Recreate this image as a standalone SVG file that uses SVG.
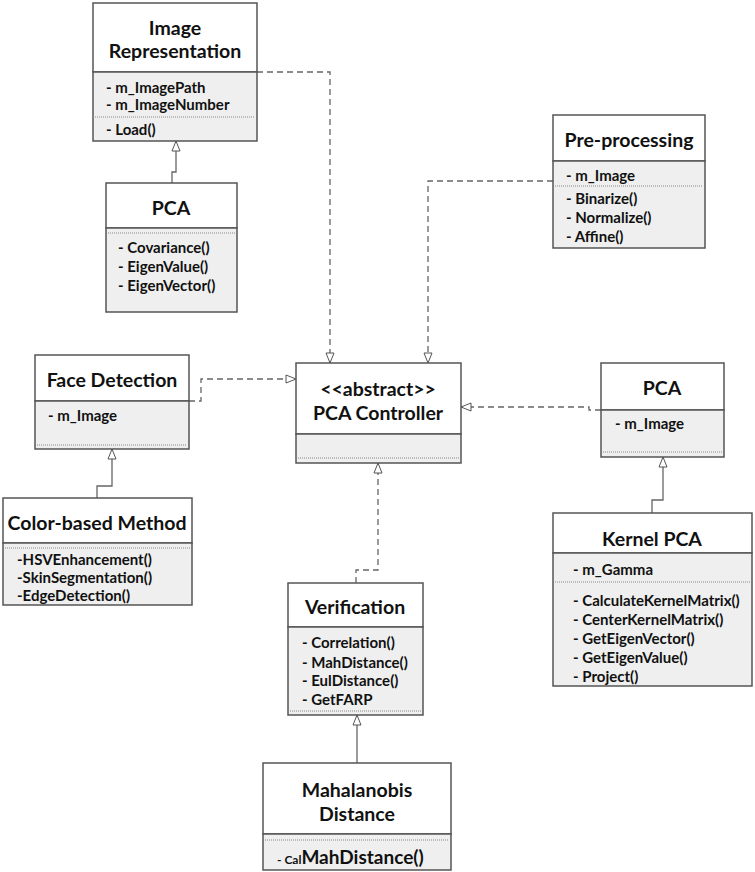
<svg xmlns="http://www.w3.org/2000/svg" width="755" height="872" viewBox="0 0 755 872">
<defs>
<marker id="tri" viewBox="0 0 12 10" refX="11" refY="5" markerWidth="12" markerHeight="10" markerUnits="userSpaceOnUse" orient="auto">
<path d="M1,1 L11,5 L1,9 Z" fill="#fff" stroke="#555" stroke-width="1"/>
</marker>
<style>
.box{stroke:#555;stroke-width:1.5}
.hd{fill:#fff}
.bd{fill:#efefef}
.dot{stroke:#888;stroke-width:1;stroke-dasharray:1 1}
.t{font-family:Lato,"Open Sans",sans-serif;font-weight:bold;font-size:19.5px;fill:#111;text-anchor:middle;dominant-baseline:central}
.f{font-family:Lato,"Open Sans",sans-serif;font-weight:bold;font-size:15px;fill:#111;dominant-baseline:central}
.c{fill:none;stroke:#666;stroke-width:1.3}
.d{stroke-dasharray:6 4}
</style>
</defs>
<rect width="755" height="872" fill="#fff"/>

<g id="connectors">
<polyline class="c d" points="257,72 330,72 330,363" marker-end="url(#tri)"/>
<polyline class="c d" points="553,181 428,181 428,363" marker-end="url(#tri)"/>
<polyline class="c d" points="189,401 201,401 201,379 296,379" marker-end="url(#tri)"/>
<polyline class="c d" points="601,410 589,410 589,407 461,407" marker-end="url(#tri)"/>
<polyline class="c d" points="356,583 356,570 378,570 378,463" marker-end="url(#tri)"/>
<polyline class="c" points="172,183 172,172 176,172 176,141" marker-end="url(#tri)"/>
<polyline class="c" points="97,498 97,486 112,486 112,449" marker-end="url(#tri)"/>
<polyline class="c" points="652,513 652,500 663,500 663,457" marker-end="url(#tri)"/>
<polyline class="c" points="357,763 357,715" marker-end="url(#tri)"/>
</g>

<g id="image-representation">
<rect class="box hd" x="93" y="3" width="164" height="69"/>
<rect class="box bd" x="93" y="72" width="164" height="69"/>
<line class="dot" x1="95" y1="117" x2="255" y2="117"/>
<text class="t" x="175" y="27">Image</text>
<text class="t" x="175" y="50">Representation</text>
<text class="f" x="106" y="87">- m_ImagePath</text>
<text class="f" x="106" y="104">- m_ImageNumber</text>
<text class="f" x="106" y="129">- Load()</text>
</g>

<g id="pca-top">
<rect class="box hd" x="106" y="183" width="131" height="45"/>
<rect class="box bd" x="106" y="228" width="131" height="84"/>
<line class="dot" x1="108" y1="233" x2="235" y2="233"/>
<text class="t" x="171" y="207">PCA</text>
<text class="f" x="118" y="247">- Covariance()</text>
<text class="f" x="118" y="266">- EigenValue()</text>
<text class="f" x="118" y="285">- EigenVector()</text>
</g>

<g id="pre-processing">
<rect class="box hd" x="553" y="115" width="152" height="46"/>
<rect class="box bd" x="553" y="161" width="152" height="87"/>
<line class="dot" x1="555" y1="186" x2="703" y2="186"/>
<text class="t" x="629" y="139">Pre-processing</text>
<text class="f" x="566" y="175">- m_Image</text>
<text class="f" x="566" y="198">- Binarize()</text>
<text class="f" x="566" y="217">- Normalize()</text>
<text class="f" x="566" y="236">- Affine()</text>
</g>

<g id="face-detection">
<rect class="box hd" x="35" y="355" width="154" height="46"/>
<rect class="box bd" x="35" y="401" width="154" height="48"/>
<line class="dot" x1="37" y1="445" x2="187" y2="445"/>
<text class="t" x="112" y="379">Face Detection</text>
<text class="f" x="48" y="415">- m_Image</text>
</g>

<g id="pca-controller">
<rect class="box hd" x="296" y="363" width="165" height="71"/>
<rect class="box bd" x="296" y="434" width="165" height="29"/>
<line class="dot" x1="298" y1="458" x2="459" y2="458"/>
<text class="t" x="378" y="388">&lt;&lt;abstract&gt;&gt;</text>
<text class="t" x="378" y="412">PCA Controller</text>
</g>

<g id="pca-right">
<rect class="box hd" x="601" y="363" width="123" height="47"/>
<rect class="box bd" x="601" y="410" width="123" height="47"/>
<line class="dot" x1="603" y1="452" x2="722" y2="452"/>
<text class="t" x="662" y="387">PCA</text>
<text class="f" x="615" y="423">- m_Image</text>
</g>

<g id="color-based-method">
<rect class="box hd" x="3" y="498" width="189" height="45"/>
<rect class="box bd" x="3" y="543" width="189" height="62"/>
<line class="dot" x1="5" y1="548" x2="190" y2="548"/>
<text class="t" x="97" y="522">Color-based Method</text>
<text class="f" x="17" y="559">-HSVEnhancement()</text>
<text class="f" x="17" y="577">-SkinSegmentation()</text>
<text class="f" x="17" y="595">-EdgeDetection()</text>
</g>

<g id="kernel-pca">
<rect class="box hd" x="553" y="513" width="199" height="40"/>
<rect class="box bd" x="553" y="553" width="199" height="133"/>
<line class="dot" x1="555" y1="582" x2="750" y2="582"/>
<text class="t" x="652" y="538">Kernel PCA</text>
<text class="f" x="573" y="569">- m_Gamma</text>
<text class="f" x="573" y="600">- CalculateKernelMatrix()</text>
<text class="f" x="573" y="619">- CenterKernelMatrix()</text>
<text class="f" x="573" y="638">- GetEigenVector()</text>
<text class="f" x="573" y="657">- GetEigenValue()</text>
<text class="f" x="573" y="676">- Project()</text>
</g>

<g id="verification">
<rect class="box hd" x="288" y="583" width="135" height="44"/>
<rect class="box bd" x="288" y="627" width="135" height="88"/>
<line class="dot" x1="290" y1="711" x2="421" y2="711"/>
<text class="t" x="355" y="606">Verification</text>
<text class="f" x="302" y="642">- Correlation()</text>
<text class="f" x="302" y="662">- MahDistance()</text>
<text class="f" x="302" y="680">- EulDistance()</text>
<text class="f" x="302" y="699">- GetFARP</text>
</g>

<g id="mahalanobis-distance">
<rect class="box hd" x="263" y="763" width="188" height="71"/>
<rect class="box bd" x="263" y="834" width="188" height="36"/>
<line class="dot" x1="265" y1="840" x2="449" y2="840"/>
<text class="t" x="357" y="789">Mahalanobis</text>
<text class="t" x="357" y="813">Distance</text>
<text class="f" x="277" y="864" style="dominant-baseline:auto"><tspan font-size="12">- Cal</tspan><tspan font-size="19">MahDistance()</tspan></text>
</g>
</svg>
